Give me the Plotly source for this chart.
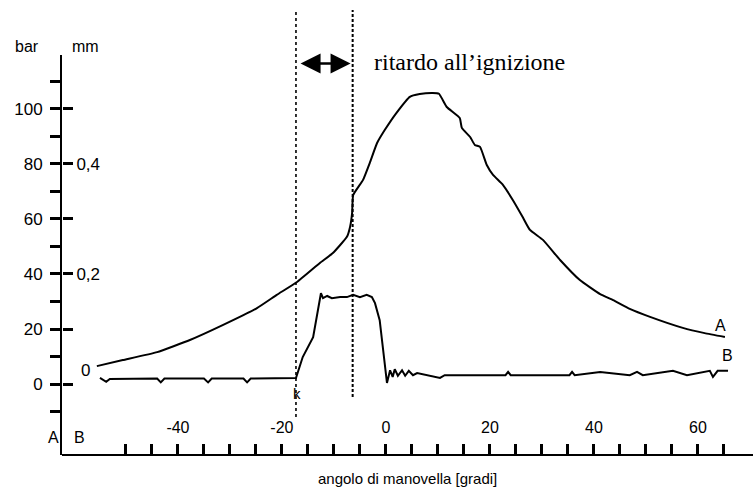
import plotly.graph_objects as go

# Curve A: cylinder pressure [bar] against crank angle [deg]
angle_a = [-55.6, -50.6, -44.0, -37.7, -31.3, -24.8, -21.0, -17.1, -12.7, -10.2,
           -7.5, -6.9, -6.5, -6.3, -4.4, -3.1, -1.7, -0.2, 2.0, 4.6,
           6.5, 9.0, 10.2, 11.7, 14.2, 14.6, 16.2, 17.1, 18.1, 19.4,
           20.6, 22.5, 24.4, 26.3, 27.7, 30.2, 33.5, 37.3, 41.2, 43.7,
           46.9, 50.8, 57.1, 61.3, 65.2]
pressure_bar = [6.5, 8.7, 11.6, 16.0, 21.5, 27.6, 32.4, 37.1, 44.0, 47.6,
                53.5, 57.1, 62.2, 68.7, 74.2, 80.4, 87.6, 92.4, 98.5, 104.4,
                105.4, 105.8, 105.5, 100.7, 96.7, 93.1, 89.8, 86.9, 86.2, 79.6,
                76.0, 72.4, 66.9, 60.7, 56.0, 52.4, 45.1, 37.8, 32.7, 30.5,
                27.3, 24.4, 20.4, 18.5, 17.1]

# Curve B: injector needle lift [mm] against crank angle [deg]
angle_b = [-55.0, -53.8, -53.1, -44.0, -43.3, -42.6, -35.0, -34.2, -33.5, -27.4,
           -26.7, -26.0, -17.3, -16.0, -14.0, -13.1, -12.5, -12.1, -11.3, -10.4,
           -8.8, -7.5, -6.3, -5.0, -3.7, -2.7, -2.1, -1.2, -0.6, 0.0,
           0.2, 0.8, 1.3, 1.7, 2.3, 3.1, 3.7, 4.4, 5.2, 6.0,
           10.4, 11.3, 23.0, 23.5, 24.0, 35.3, 35.8, 36.3, 41.2, 46.9,
           48.3, 49.4, 55.2, 57.9, 62.3, 62.9, 63.8, 65.8]
lift_mm = [0.011, 0.004, 0.009, 0.010, 0.003, 0.010, 0.010, 0.003, 0.010, 0.010,
           0.003, 0.010, 0.011, 0.049, 0.085, 0.129, 0.165, 0.156, 0.160, 0.156,
           0.158, 0.158, 0.162, 0.158, 0.162, 0.158, 0.147, 0.116, 0.067, 0.013,
           0.002, 0.025, 0.013, 0.027, 0.015, 0.025, 0.015, 0.024, 0.016, 0.020,
           0.011, 0.016, 0.016, 0.022, 0.016, 0.016, 0.022, 0.016, 0.022, 0.016,
           0.022, 0.016, 0.024, 0.016, 0.024, 0.013, 0.024, 0.024]

# Axis ticks
x_ticks = list(range(-50, 70, 5))
x_labels = [str(v) if v % 20 == 0 else "" for v in x_ticks]
bar_ticks = list(range(-10, 120, 10))
bar_labels = [str(v) if (v % 20 == 0 and 0 <= v <= 100) else "" for v in bar_ticks]
mm_ticks = [0.0, 0.1, 0.2, 0.3, 0.4, 0.5]
mm_labels = ["", "", "0,2", "", "0,4", ""]

# Injection start (k) and ignition
injection_start = -17.3
ignition = -6.4

BAR_RANGE = [-25.8, 119.6]
MM_RANGE = [BAR_RANGE[0] / 200, BAR_RANGE[1] / 200]
X_RANGE = [-62.3, 70.6]

SANS = "Liberation Sans, Arial, Helvetica, sans-serif"
SERIF = "Liberation Serif, Times New Roman, serif"
INK = "rgb(0,0,0)"

fig = go.Figure()
fig.add_trace(go.Scatter(x=angle_a, y=pressure_bar, mode="lines",
                         line=dict(color=INK, width=2, shape="spline", smoothing=0.4),
                         xaxis="x", yaxis="y", hoverinfo="skip"))
fig.add_trace(go.Scatter(x=angle_b, y=lift_mm, mode="lines",
                         line=dict(color=INK, width=2),
                         xaxis="x", yaxis="y2", hoverinfo="skip"))

# Dotted markers for injection start and ignition
fig.add_shape(type="line", xref="x", yref="paper", x0=injection_start, x1=injection_start,
              y0=0.095, y1=1.1125, line=dict(color=INK, width=1.6, dash="dot"))
fig.add_shape(type="line", xref="x", yref="paper", x0=ignition, x1=ignition,
              y0=0.145, y1=1.1125, line=dict(color=INK, width=2, dash="3px,2px"))

# Double arrow spanning the ignition delay
fig.add_annotation(x=ignition - 0.4, y=116.5, xref="x", yref="y",
                   ax=injection_start + 0.6, ay=116.5, axref="x", ayref="y",
                   showarrow=True, arrowhead=2, startarrowhead=2, arrowside="end+start",
                   arrowsize=1.6, startarrowsize=1.6, arrowwidth=2.5, arrowcolor=INK,
                   text="")
fig.add_annotation(x=-2.7, y=117, xref="x", yref="y", xanchor="left", yanchor="middle",
                   text="ritardo all’ignizione", showarrow=False,
                   font=dict(family=SERIF, size=24, color=INK))

# Axis captions
labels = [
    dict(x=-0.05, y=1.02, text="bar", xanchor="center"),
    dict(x=0.034, y=1.02, text="mm", xanchor="center"),
    dict(x=-0.013, y=0.043, text="A", xanchor="center"),
    dict(x=0.026, y=0.043, text="B", xanchor="center"),
]
for lab in labels:
    fig.add_annotation(xref="paper", yref="paper", yanchor="middle", showarrow=False,
                       font=dict(family=SANS, size=16, color=INK), **lab)
fig.add_annotation(x=0.5, y=-0.0575, xref="paper", yref="paper",
                   text="angolo di manovella [gradi]", showarrow=False,
                   xanchor="center", yanchor="middle",
                   font=dict(family=SANS, size=15, color=INK))
fig.add_annotation(x=0.034, y=0.025, xref="paper", yref="y2", text="0", showarrow=False,
                   xanchor="center", yanchor="middle",
                   font=dict(family=SANS, size=17, color=INK))
fig.add_annotation(x=injection_start + 0.2, y=-3.3, xref="x", yref="y", text="k",
                   showarrow=False, xanchor="center", yanchor="middle",
                   font=dict(family=SANS, size=15, color=INK))
fig.add_annotation(x=angle_a[-1] - 0.8, y=pressure_bar[-1] + 4.0, xref="x", yref="y", text="A",
                   showarrow=False, xanchor="center", yanchor="middle",
                   font=dict(family=SANS, size=16, color=INK))
fig.add_annotation(x=angle_b[-1] - 0.2, y=0.052, xref="x", yref="y2", text="B",
                   showarrow=False, xanchor="center", yanchor="middle",
                   font=dict(family=SANS, size=16, color=INK))

fig.update_layout(
    width=753, height=490,
    margin=dict(l=62, r=0, t=55, b=35),
    paper_bgcolor="white", plot_bgcolor="white",
    showlegend=False,
    font=dict(family=SANS, size=16, color=INK),
    # angle axis sits at the bottom edge, ticks and labels pointing up into the plot
    xaxis=dict(range=X_RANGE, side="top", anchor="free", position=0,
               showline=True, linecolor=INK, linewidth=2,
               ticks="outside", ticklen=10, tickwidth=3, tickcolor=INK,
               tickmode="array", tickvals=x_ticks, ticktext=x_labels,
               ticklabelstandoff=5, tickfont=dict(size=16, color=INK),
               showgrid=False, zeroline=False),
    yaxis=dict(range=BAR_RANGE, showline=True, linecolor=INK, linewidth=2,
               ticks="outside", ticklen=10, tickwidth=3, tickcolor=INK,
               tickmode="array", tickvals=bar_ticks, ticktext=bar_labels,
               ticklabelstandoff=4, tickfont=dict(size=17, color=INK),
               showgrid=False, zeroline=False),
    # lift scale shares the left spine, ticks and labels pointing right
    yaxis2=dict(range=MM_RANGE, overlaying="y", side="right", anchor="free", position=0,
                showline=False, ticks="outside", ticklen=10, tickwidth=3, tickcolor=INK,
                tickmode="array", tickvals=mm_ticks, ticktext=mm_labels,
                tickfont=dict(size=17, color=INK),
                showgrid=False, zeroline=False),
)

fig.write_html("out.html")
